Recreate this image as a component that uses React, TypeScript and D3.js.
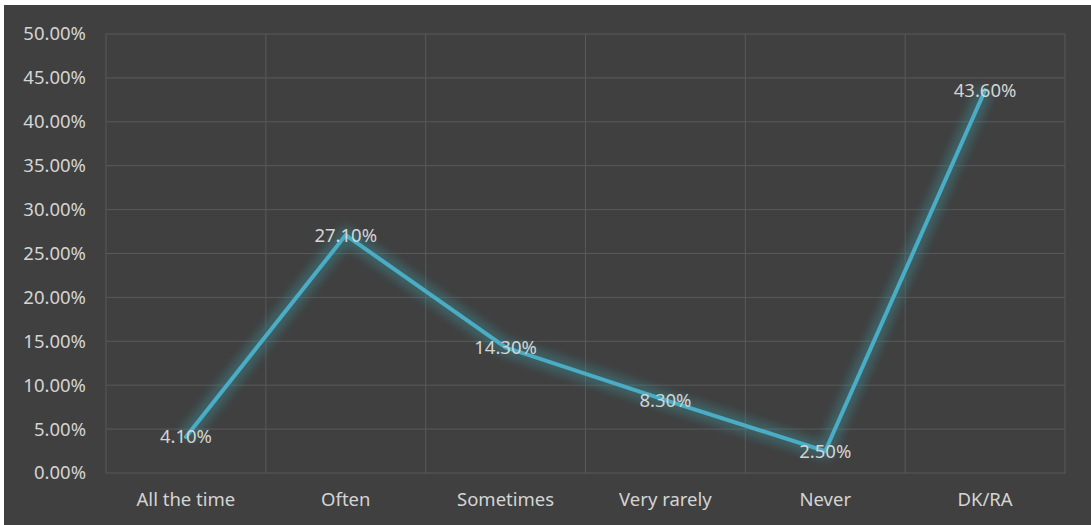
import { useRef, useEffect } from "react";
import * as d3 from "d3";

const categories = ["All the time", "Often", "Sometimes", "Very rarely", "Never", "DK/RA"];
const values = [4.1, 27.1, 14.3, 8.3, 2.5, 43.6];
const yTicks = [0, 5, 10, 15, 20, 25, 30, 35, 40, 45, 50];

const W = 1091;
const H = 525;

const App = () => {
  const svgRef = useRef<SVGSVGElement | null>(null);

  useEffect(() => {
    if (!svgRef.current) return;
    const svg = d3.select(svgRef.current);
    svg.selectAll("*").remove();

    const margin = { top: 34, right: 26, bottom: 52, left: 106 };
    const innerWidth = W - margin.left - margin.right;
    const innerHeight = H - margin.top - margin.bottom;
    const font = "'Noto Sans', 'Open Sans', sans-serif";
    const fontSize = 18.5;
    const textColor = "#d4d4d4";
    const gridColor = "#595959";
    const lineColor = "#4bacc6";

    const defs = svg.append("defs");
    const glow = defs
      .append("filter")
      .attr("id", "glow")
      .attr("x", "-20%")
      .attr("y", "-20%")
      .attr("width", "140%")
      .attr("height", "140%");
    glow.append("feGaussianBlur").attr("stdDeviation", 5);

    svg
      .append("rect")
      .attr("x", 4)
      .attr("y", 5)
      .attr("width", W - 4)
      .attr("height", H - 5)
      .attr("fill", "#404040");

    const xScale = d3
      .scaleBand<string>()
      .domain(categories)
      .range([0, innerWidth]);

    const yScale = d3.scaleLinear().domain([0, 50]).range([innerHeight, 0]);

    const g = svg
      .append("g")
      .attr("transform", `translate(${margin.left},${margin.top})`);

    // horizontal grid
    g.append("g")
      .selectAll("line")
      .data(yTicks)
      .join("line")
      .attr("x1", 0)
      .attr("x2", innerWidth)
      .attr("y1", (d) => yScale(d))
      .attr("y2", (d) => yScale(d))
      .attr("stroke", gridColor)
      .attr("stroke-width", 1);

    // vertical grid (category boundaries)
    const bounds = categories.map((c) => xScale(c) as number).concat([innerWidth]);
    g.append("g")
      .selectAll("line")
      .data(bounds)
      .join("line")
      .attr("x1", (d) => d)
      .attr("x2", (d) => d)
      .attr("y1", 0)
      .attr("y2", innerHeight)
      .attr("stroke", gridColor)
      .attr("stroke-width", 1);

    // y tick labels
    g.append("g")
      .selectAll("text")
      .data(yTicks)
      .join("text")
      .attr("x", -20)
      .attr("y", (d) => yScale(d))
      .attr("dy", "0.35em")
      .attr("text-anchor", "end")
      .attr("fill", textColor)
      .attr("font-family", font)
      .attr("font-size", fontSize)
      .text((d) => d3.format(".2f")(d) + "%");

    // x labels
    g.append("g")
      .selectAll("text")
      .data(categories)
      .join("text")
      .attr("x", (d) => (xScale(d) as number) + xScale.bandwidth() / 2)
      .attr("y", innerHeight + 27)
      .attr("dy", "0.35em")
      .attr("text-anchor", "middle")
      .attr("fill", textColor)
      .attr("font-family", font)
      .attr("font-size", fontSize)
      .text((d) => d);

    const points = categories.map((c, i) => ({ c, v: values[i] }));
    const line = d3
      .line<(typeof points)[0]>()
      .x((d) => (xScale(d.c) as number) + xScale.bandwidth() / 2)
      .y((d) => yScale(d.v));

    g.append("path")
      .datum(points)
      .attr("fill", "none")
      .attr("stroke", "#3a8f96")
      .attr("stroke-opacity", 0.45)
      .attr("stroke-width", 16)
      .attr("stroke-linejoin", "round")
      .attr("filter", "url(#glow)")
      .attr("d", line);

    g.append("path")
      .datum(points)
      .attr("fill", "none")
      .attr("stroke", lineColor)
      .attr("stroke-width", 4)
      .attr("stroke-linejoin", "round")
      .attr("stroke-linecap", "round")
      .attr("d", line);

    // data labels
    g.append("g")
      .selectAll("text")
      .data(points)
      .join("text")
      .attr("x", (d) => (xScale(d.c) as number) + xScale.bandwidth() / 2)
      .attr("y", (d) => yScale(d.v))
      .attr("dy", "0.35em")
      .attr("text-anchor", "middle")
      .attr("fill", textColor)
      .attr("font-family", font)
      .attr("font-size", fontSize)
      .text((d) => d3.format(".2f")(d.v) + "%");
  }, []);

  return (
    <svg
      ref={svgRef}
      width={W}
      height={H}
      style={{ display: "block", position: "absolute", left: 0, top: 0 }}
    ></svg>
  );
};

export default App;
